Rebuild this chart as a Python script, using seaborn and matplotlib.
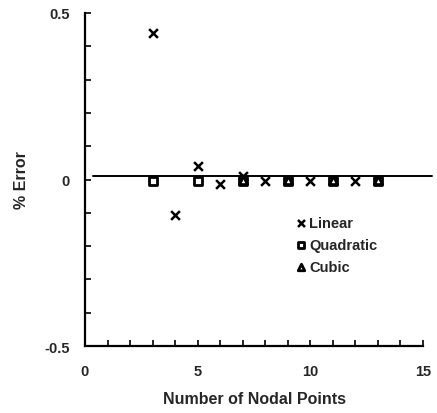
import matplotlib
matplotlib.use("Agg")
import matplotlib.pyplot as plt
from matplotlib.ticker import MultipleLocator
import seaborn as sns
import pandas as pd

# Data
linear_x = [3, 4, 5, 6, 7, 8, 10, 12]
linear_y = [0.44, -0.107, 0.04, -0.015, 0.01, -0.005, -0.005, -0.003]
quad_x = [3, 5, 7, 9, 11, 13]
quad_y = [-0.005, -0.005, -0.005, -0.005, -0.005, -0.005]
cubic_x = [7, 9, 11, 13]
cubic_y = [0.0, -0.002, -0.002, -0.002]
ref_x = [0.35, 15.4]
ref_y = [0.012, 0.012]

x_ticks = [0, 5, 10, 15]
y_ticks = [-0.5, 0, 0.5]
y_tick_labels = ["-0.5", "0", "0.5"]

sns.set_style("ticks")
plt.rcParams["font.family"] = ["Liberation Sans", "DejaVu Sans"]
plt.rcParams["font.weight"] = "bold"

fig = plt.figure(figsize=(4.37, 4.14), dpi=100)
ax = fig.add_axes([0.1945, 0.1618, 0.7735, 0.8044])

lin = pd.DataFrame({"x": linear_x, "y": linear_y})
quad = pd.DataFrame({"x": quad_x, "y": quad_y})
cub = pd.DataFrame({"x": cubic_x, "y": cubic_y})

ax.plot(ref_x, ref_y, color="black", lw=1.4, clip_on=False, zorder=1)

sns.scatterplot(data=quad, x="x", y="y", ax=ax, marker="s", s=30,
                facecolor="white", edgecolor="black", linewidth=2.0,
                label="Quadratic", zorder=3)
sns.scatterplot(data=cub, x="x", y="y", ax=ax, marker="^", s=34,
                facecolor="white", edgecolor="black", linewidth=2.0,
                label="Cubic", zorder=4)
sns.scatterplot(data=lin, x="x", y="y", ax=ax, marker="x", s=40,
                color="black", linewidth=1.8, label="Linear", zorder=5)

ax.set_xlim(0, 15)
ax.set_ylim(-0.5, 0.5)
ax.set_xticks(x_ticks)
ax.xaxis.set_minor_locator(MultipleLocator(1))
ax.set_yticks(y_ticks)
ax.set_yticklabels(y_tick_labels)
ax.yaxis.set_minor_locator(MultipleLocator(0.1))
ax.tick_params(which="both", direction="in", length=4, width=1.2, color="black")
ax.tick_params(axis="x", which="major", pad=13, labelsize=10.5)
ax.tick_params(axis="y", which="major", pad=11, labelsize=10.5)

for s in ["top", "right"]:
    ax.spines[s].set_visible(False)
for s in ["left", "bottom"]:
    ax.spines[s].set_linewidth(1.6)
    ax.spines[s].set_color("black")

ax.set_xlabel("Number of Nodal Points", fontsize=11.5, fontweight="bold", labelpad=9)
ax.set_ylabel("% Error", fontsize=11.5, fontweight="bold", labelpad=11)

handles, labels = ax.get_legend_handles_labels()
order = [labels.index("Linear"), labels.index("Quadratic"), labels.index("Cubic")]
leg = ax.legend([handles[i] for i in order], [labels[i] for i in order],
                loc="upper left", bbox_to_anchor=(0.58, 0.43), frameon=False,
                handletextpad=0.05, handlelength=1.0, labelspacing=0.55,
                fontsize=10.5, markerscale=0.8)

fig.savefig("out.png", dpi=100)
